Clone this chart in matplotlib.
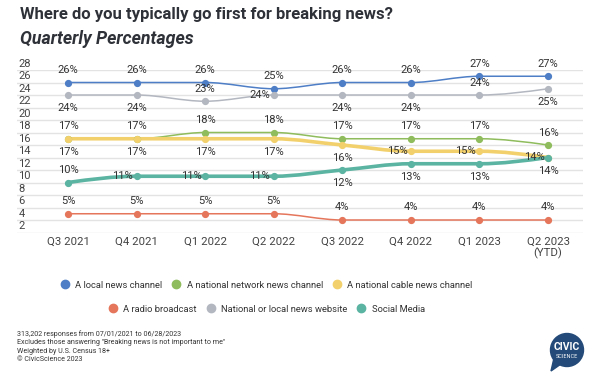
import numpy as np
import matplotlib.pyplot as plt
from matplotlib.path import Path
from matplotlib.patches import PathPatch, Circle, Polygon
from matplotlib.lines import Line2D

plt.rcParams['font.family'] = ['Roboto', 'DejaVu Sans']

quarters = ['Q3 2021', 'Q4 2021', 'Q1 2022', 'Q2 2022', 'Q3 2022', 'Q4 2022', 'Q1 2023', 'Q2 2023\n(YTD)']

local_news = [26, 26, 26, 25, 26, 26, 27, 27]
national_network = [17, 17, 18, 18, 17, 17, 17, 16]
national_cable = [17, 17, 17, 17, 16, 15, 15, 14]
radio = [5, 5, 5, 5, 4, 4, 4, 4]
news_website = [24, 24, 23, 24, 24, 24, 24, 25]
social_media = [10, 11, 11, 11, 12, 13, 13, 14]

names = ['A local news channel', 'A national network news channel', 'A national cable news channel',
         'A radio broadcast', 'National or local news website', 'Social Media']
series = [local_news, national_network, national_cable, radio, news_website, social_media]
colors = ['#4e7ec6', '#8fbc5c', '#f2d16c', '#e5765c', '#b3b7c0', '#5bb3a1']
widths = [1.1, 1.1, 2.6, 1.1, 1.1, 2.6]
# where each value label sits: a = above, b = below, l = left
label_pos = ['aaaaaaaa', 'aaaaaaaa', 'bbbbblll', 'aaaaaaaa', 'bbalbbab', 'alllbbbb']

footer = ('313,202 responses from 07/01/2021 to 06/28/2023\n'
          'Excludes those answering "Breaking news is not important to me"\n'
          'Weighted by U.S. Census 18+\n'
          '\u00a9 CivicScience 2023')

TXT = '#333333'


def monotone_path(xs, ys):
    xs = np.asarray(xs, float)
    ys = np.asarray(ys, float)
    h = np.diff(xs)
    s = np.diff(ys) / h
    n = len(xs)
    t = np.zeros(n)
    for i in range(1, n - 1):
        p = (s[i - 1] * h[i] + s[i] * h[i - 1]) / (h[i - 1] + h[i])
        t[i] = (np.sign(s[i - 1]) + np.sign(s[i])) * min(abs(s[i - 1]), abs(s[i]), 0.5 * abs(p))
    t[0] = (3 * s[0] - t[1]) / 2
    t[-1] = (3 * s[-1] - t[-2]) / 2
    verts = [(xs[0], ys[0])]
    codes = [Path.MOVETO]
    for i in range(n - 1):
        d = h[i] / 3
        verts += [(xs[i] + d, ys[i] + d * t[i]), (xs[i + 1] - d, ys[i + 1] - d * t[i + 1]), (xs[i + 1], ys[i + 1])]
        codes += [Path.CURVE4] * 3
    return Path(verts, codes)


fig = plt.figure(figsize=(6, 3.81), dpi=100)
ax = fig.add_axes([17 / 600, 1 - 232.5 / 381, 566 / 600, 162.5 / 381])
x = np.arange(len(quarters))
ax.set_xlim(-0.744, 7.51)
ax.set_ylim(2, 28)

yticks = list(range(2, 30, 2))
ax.set_yticks(yticks)
ax.set_yticklabels([])
ax.grid(axis='y', color='#e3e3e3', linewidth=1)
ax.set_axisbelow(True)
for sp in ax.spines.values():
    sp.set_visible(False)
ax.tick_params(length=0)
for v in yticks:
    ax.annotate(str(v), xy=(0, v), xycoords=('axes fraction', 'data'), xytext=(1, 4.6),
                textcoords='offset points', ha='left', va='center', fontsize=8, color='#444444')

ax.set_xticks(x)
ax.set_xticklabels(quarters, fontsize=8.2, color='#444444', linespacing=1.1)
ax.tick_params(axis='x', pad=3)

handles = []
for vals, name, c, lw, pos in zip(series, names, colors, widths, label_pos):
    ax.add_patch(PathPatch(monotone_path(x, vals), fill=False, edgecolor=c, lw=lw, capstyle='round', zorder=2))
    ax.plot(x, vals, 'o', color=c, markersize=4.2, zorder=3)
    for xi, v, p in zip(x, vals, pos):
        if p == 'a':
            kw = dict(xytext=(0, 9), ha='center')
        elif p == 'b':
            kw = dict(xytext=(0, -9.5), ha='center')
        else:
            kw = dict(xytext=(-2.5, 0), ha='right')
        ax.annotate(f'{v}%', xy=(xi, v), textcoords='offset points', va='center',
                    fontsize=8, color=TXT, zorder=4, **kw)
    handles.append(Line2D([], [], marker='o', linestyle='', color=c, markersize=6))

leg_kw = dict(frameon=False, fontsize=6.75, handletextpad=0.1, columnspacing=0.5,
              borderaxespad=0, loc='center', labelcolor=TXT)
fig.legend(handles[:3], names[:3], ncol=3, bbox_to_anchor=(264 / 600, 1 - 285 / 381), **leg_kw)
fig.legend(handles[3:], names[3:], ncol=3, bbox_to_anchor=(264 / 600, 1 - 309 / 381), **leg_kw)

fig.text(20 / 600, 1 - 15 / 381, 'Where do you typically go first for breaking news?', fontsize=12,
         fontweight='bold', color='#2e3138', va='center', ha='left')
fig.text(20 / 600, 1 - 39.5 / 381, 'Quarterly Percentages', fontsize=12.8, fontweight='bold',
         fontstyle='italic', color='#2e3138', va='center', ha='left')
fig.text(17 / 600, 1 - 330 / 381, footer, fontsize=5.1, color='#333333', va='top', ha='left',
         linespacing=1.28)

# logo
lax = fig.add_axes([546 / 600, 1 - 372 / 381, 40 / 600, 40 / 381])
lax.set_xlim(0, 40)
lax.set_ylim(0, 40)
lax.axis('off')
logo = '#234a78'
lax.add_patch(Circle((21, 22), 16.5, color=logo))
lax.add_patch(Polygon([[8, 14], [15, 8], [5, 1]], closed=True, color=logo))
lax.text(21, 25, 'CIVIC', color='white', fontsize=7.5, fontweight='bold', ha='center', va='center')
lax.text(21, 16, 'SCIENCE', color='white', fontsize=4, ha='center', va='center')

fig.savefig('out.png', dpi=100)
